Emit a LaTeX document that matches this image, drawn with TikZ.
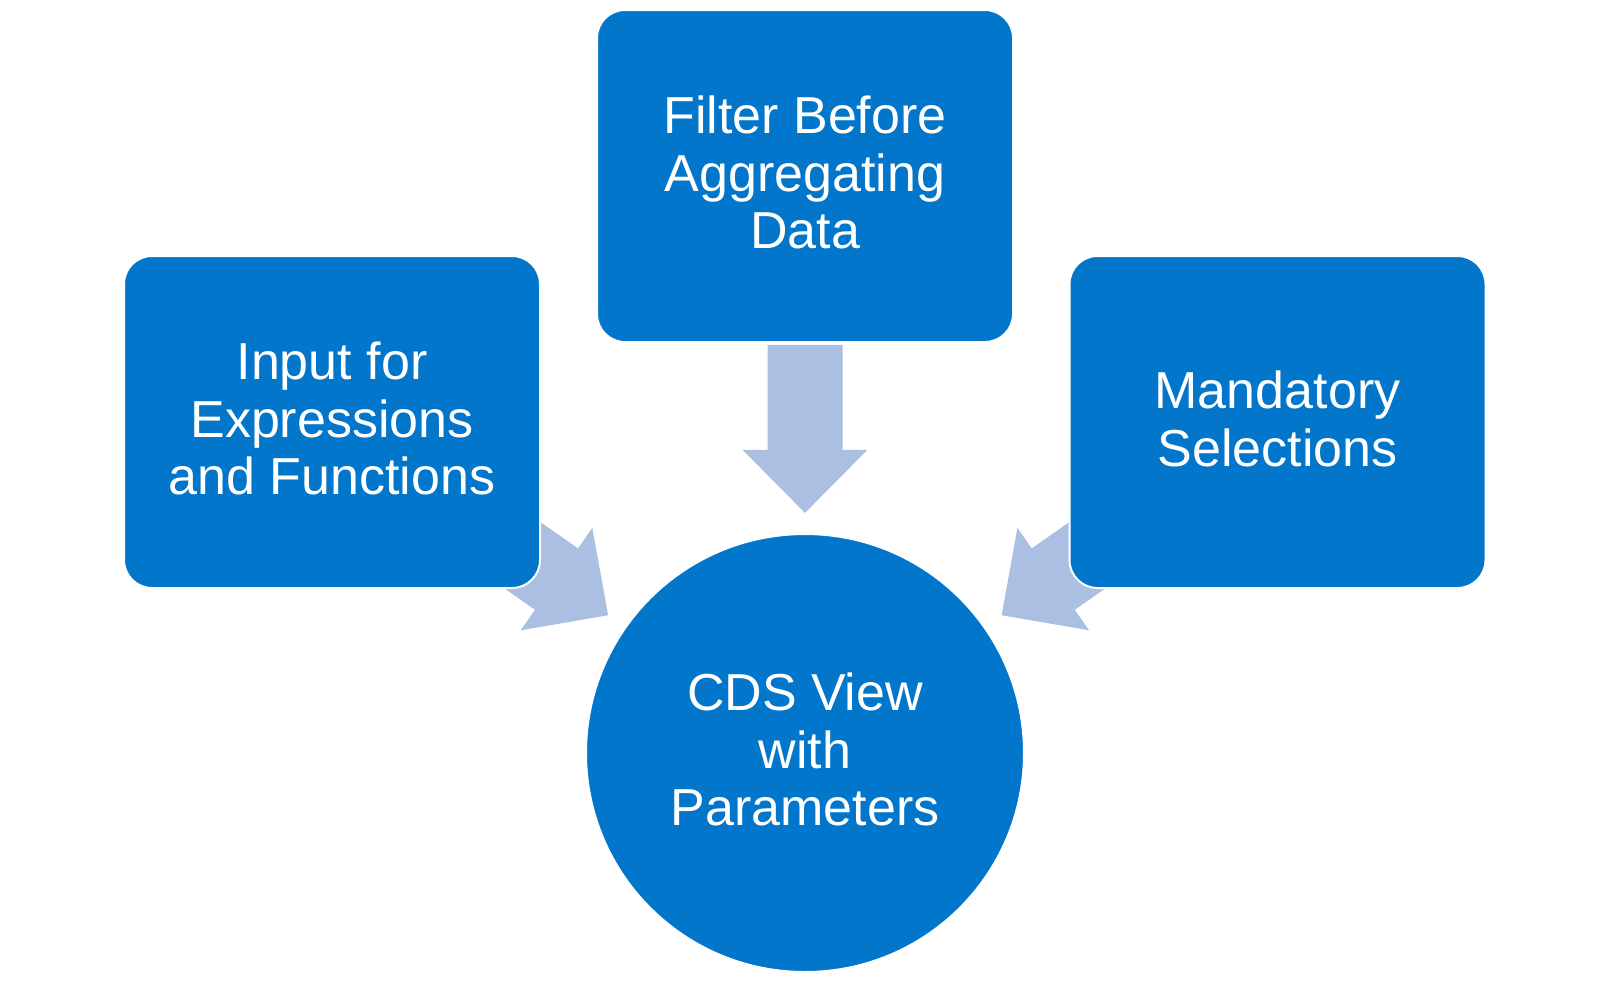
\documentclass[tikz,border=0pt]{standalone}
\usepackage{fontspec}
\setmainfont{Liberation Sans}
\usetikzlibrary{calc}
\definecolor{boxblue}{HTML}{0276CA}
\definecolor{arrowblue}{HTML}{ABBFE3}
\tikzset{
  boxstyle/.style={fill=boxblue, draw=white, line width=1pt, rounded corners=14pt,
    minimum width=208pt, minimum height=166pt, align=center, text=white,
    font=\fontsize{26pt}{28.75pt}\selectfont, inner sep=0pt, text depth=3.5pt},
  circstyle/.style={circle, fill=boxblue, draw=white, line width=1pt,
    minimum size=219pt, align=center, text=white,
    font=\fontsize{26pt}{28.75pt}\selectfont, inner sep=0pt, text depth=3.5pt},
  blockarrow/.pic={\fill[arrowblue] (-105,-37.5) -- (0,-37.5) -- (0,-62.5) -- (63,0)
    -- (0,62.5) -- (0,37.5) -- (-105,37.5) -- cycle;}
}
\begin{document}
\begin{tikzpicture}[x=0.5pt, y=-0.5pt]
\useasboundingbox (0,0) rectangle (1600,982);
% node centres (anchors first, so arrows can sit behind the boxes)
\coordinate (inpc) at (332,422);
\coordinate (filc) at (805,176);
\coordinate (manc) at (1277.5,422);
\coordinate (cdsc) at (805,753);
% arrows behind the boxes
\pic[rotate=-35] at ($(inpc)!0.4746!(cdsc)$) {blockarrow};
\pic[rotate=-90] at ($(filc)!0.4746!(cdsc)$) {blockarrow};
\pic[rotate=-145] at ($(manc)!0.4746!(cdsc)$) {blockarrow};
% boxes
\node[boxstyle] (inp) at (inpc) {Input for\\Expressions\\and Functions};
\node[boxstyle] (fil) at (filc) {Filter Before\\Aggregating\\Data};
\node[boxstyle] (man) at (manc) {Mandatory\\Selections};
\node[circstyle] (cds) at (cdsc) {CDS View\\with\\Parameters};
\end{tikzpicture}
\end{document}
